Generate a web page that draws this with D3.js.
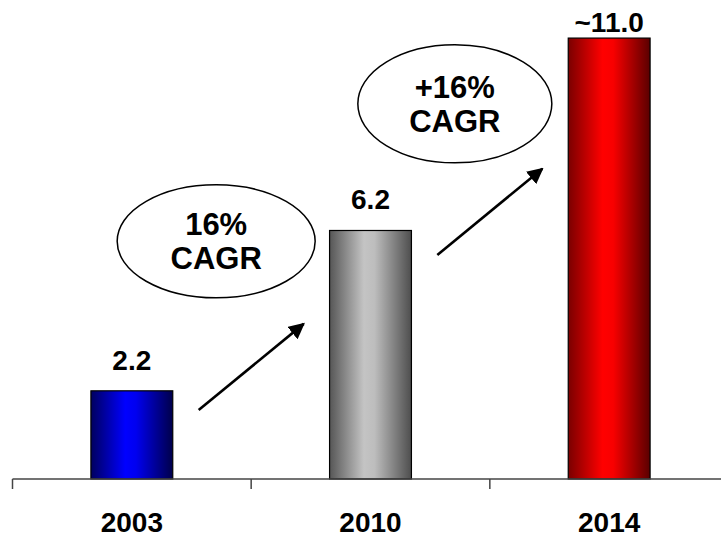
<!DOCTYPE html>
<html>
<head>
<meta charset="utf-8">
<script src="https://cdn.jsdelivr.net/npm/d3@7"></script>
<style>
  html, body { margin: 0; padding: 0; background: #fff; }
  svg { display: block; }
  text { font-family: "Liberation Sans", Arial, Helvetica, sans-serif; font-weight: bold; fill: #000; }
</style>
</head>
<body>
<svg id="chart" width="721" height="539"></svg>
<script>
// Market size by year
const categories = ["2003", "2010", "2014"];
const values = [2.2, 6.2, 11.0];
const valueLabels = ["2.2", "6.2", "~11.0"];

// Growth call-outs between consecutive years: [text lines], anchor value
const growthLines = [["16%", "CAGR"], ["+16%", "CAGR"]];
const growthAnchor = [5.93, 9.36];
// Arrow extents (value units) between consecutive bars
const arrowFrom = [1.72, 5.59];
const arrowTo = [3.87, 7.74];

const W = 721, H = 539;
const svg = d3.select("#chart");

const x = d3.scaleBand().domain(categories).range([12.5, 728.5]).padding(0);
const y = d3.scaleLinear().domain([0, 12]).range([479, -2]);
const barW = x.bandwidth() * 0.343;

const defs = svg.append("defs");
const palettes = [
  ["#00005e", "#0000ff", "#0000f0", "#00004a"],
  ["#565656", "#c4c4c4", "#bdbdbd", "#4e4e4e"],
  ["#7a0000", "#ff0000", "#f80000", "#5a0000"]
];
palettes.forEach((p, i) => {
  const g = defs.append("linearGradient")
    .attr("id", "grad" + i)
    .attr("x1", "0").attr("x2", "1").attr("y1", "0").attr("y2", "0");
  [[0, p[0]], [0.42, p[1]], [0.55, p[2]], [1, p[3]]].forEach(([o, c]) =>
    g.append("stop").attr("offset", o).attr("stop-color", c));
});

// arrow head marker
defs.append("marker")
  .attr("id", "arrowhead")
  .attr("viewBox", "0 0 10 10")
  .attr("refX", 9).attr("refY", 5)
  .attr("markerWidth", 6.2).attr("markerHeight", 6.2)
  .attr("markerUnits", "strokeWidth")
  .attr("orient", "auto")
  .append("path").attr("d", "M0,0 L10,5 L0,10 Z").attr("fill", "#000");

// bars
svg.append("g").selectAll("rect")
  .data(values)
  .join("rect")
  .attr("x", (d, i) => x(categories[i]) + x.bandwidth() / 2 - barW / 2)
  .attr("y", d => y(d))
  .attr("width", barW)
  .attr("height", d => y(0) - y(d))
  .attr("fill", (d, i) => `url(#grad${i})`)
  .attr("stroke", "#000")
  .attr("stroke-width", 1.2);

// value labels
svg.append("g").selectAll("text")
  .data(values)
  .join("text")
  .attr("x", (d, i) => x(categories[i]) + x.bandwidth() / 2)
  .attr("y", d => Math.max(y(d) - 21, 32))
  .attr("text-anchor", "middle")
  .attr("font-size", 28)
  .text((d, i) => valueLabels[i]);

// x axis: baseline with ticks on category boundaries
const axis = svg.append("g");
axis.append("line")
  .attr("x1", x.range()[0]).attr("x2", W)
  .attr("y1", y(0)).attr("y2", y(0))
  .attr("stroke", "#444").attr("stroke-width", 1.5);
const boundaries = categories.map(c => x(c)).concat([x.range()[1]]);
axis.selectAll("line.tick")
  .data(boundaries)
  .join("line")
  .attr("class", "tick")
  .attr("x1", d => d).attr("x2", d => d)
  .attr("y1", y(0)).attr("y2", y(0) + 10)
  .attr("stroke", "#444").attr("stroke-width", 1.5);
axis.selectAll("text")
  .data(categories)
  .join("text")
  .attr("x", d => x(d) + x.bandwidth() / 2)
  .attr("y", y(0) + 53)
  .attr("text-anchor", "middle")
  .attr("font-size", 28)
  .text(d => d);

// growth arrows, centred on the boundary between consecutive bars
const arrowHalf = 52.5;
growthLines.forEach((lines, i) => {
  const bx = x(categories[i + 1]);
  svg.append("line")
    .attr("x1", bx - arrowHalf).attr("y1", y(arrowFrom[i]))
    .attr("x2", bx + arrowHalf).attr("y2", y(arrowTo[i]))
    .attr("stroke", "#000").attr("stroke-width", 2.6)
    .attr("marker-end", "url(#arrowhead)");

  const cx = bx - 35, cy = y(growthAnchor[i]);
  svg.append("ellipse")
    .attr("cx", cx).attr("cy", cy)
    .attr("rx", i === 0 ? 99 : 97).attr("ry", i === 0 ? 56.5 : 59)
    .attr("fill", "#fff").attr("stroke", "#000").attr("stroke-width", 1.5);
  svg.append("g").selectAll("text")
    .data(lines)
    .join("text")
    .attr("x", cx)
    .attr("y", (d, j) => cy - 6 + j * 34)
    .attr("text-anchor", "middle")
    .attr("font-size", 31)
    .text(d => d);
});
</script>
</body>
</html>
